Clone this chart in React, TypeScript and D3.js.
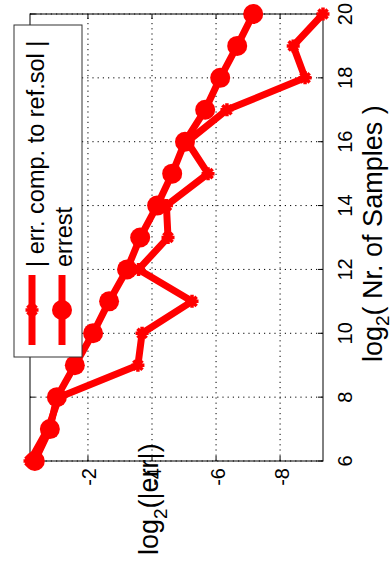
import React from 'react';
import * as d3 from 'd3';

// log2 of number of samples
const samplesLog2 = [6, 7, 8, 9, 10, 11, 12, 13, 14, 15, 16, 17, 18, 19, 20];
// | err. comp. to ref.sol |
const errRef = [-0.19, -0.75, -1.1, -3.56, -3.69, -5.25, -3.58, -4.5, -4.45, -5.75, -5.1, -6.34, -8.78, -8.41, -9.34];
// errest
const errEst = [-0.34, -0.81, -1.03, -1.59, -2.16, -2.66, -3.22, -3.63, -4.16, -4.63, -5.03, -5.66, -6.13, -6.66, -7.16];

const xTicks = [6, 8, 10, 12, 14, 16, 18, 20];
const yTicks = [-8, -6, -4, -2];
const legendLabels = ['| err. comp. to ref.sol |', 'errest'];

const FONT = '"Liberation Sans", Arial, Helvetica, sans-serif';
const RED = '#ff0000';

export default function App() {
  // inner (unrotated) frame: width 572, height 392
  const left = 111, right = 558, top = 30, bottom = 323;
  const x = d3.scaleLinear().domain([6, 20]).range([left, right]);
  const all = errRef.concat(errEst);
  const y = d3.scaleLinear().domain([d3.min(all) as number, d3.max(all) as number]).range([bottom, top]);

  const line = d3.line<number>().x((_, i) => x(samplesLog2[i])).y(d => y(d));

  const s = 6.5;
  const a = s * 0.707;
  const star = `M${-s},0L${s},0M0,${-s}L0,${s}M${-a},${-a}L${a},${a}M${-a},${a}L${a},${-a}`;
  const tickLen = 5;

  return (
    <svg width={392} height={572} style={{ position: 'absolute', left: 0, top: 0, background: '#fff' }}>
      <rect x={0} y={0} width={392} height={572} fill="#fff" />
      <g transform="translate(0,572) rotate(-90)" fontFamily={FONT}>
        {/* grid */}
        {xTicks.map(t => (
          <line key={'gx' + t} x1={x(t)} x2={x(t)} y1={top} y2={bottom} stroke="#000" strokeWidth={1} strokeDasharray="1.2,4" />
        ))}
        {yTicks.map(t => (
          <line key={'gy' + t} x1={left} x2={right} y1={y(t)} y2={y(t)} stroke="#000" strokeWidth={1} strokeDasharray="1.2,4" />
        ))}
        {/* ticks */}
        {xTicks.map(t => (
          <g key={'tx' + t}>
            <line x1={x(t)} x2={x(t)} y1={bottom} y2={bottom - tickLen} stroke="#000" />
            <line x1={x(t)} x2={x(t)} y1={top} y2={top + tickLen} stroke="#000" />
          </g>
        ))}
        {yTicks.map(t => (
          <g key={'ty' + t}>
            <line x1={left} x2={left + tickLen} y1={y(t)} y2={y(t)} stroke="#000" />
            <line x1={right} x2={right - tickLen} y1={y(t)} y2={y(t)} stroke="#000" />
          </g>
        ))}
        {/* frame */}
        <rect x={left} y={top} width={right - left} height={bottom - top} fill="none" stroke="#000" strokeWidth={1} />
        {/* tick labels */}
        {xTicks.map(t => (
          <text key={'lx' + t} x={x(t)} y={bottom + 29} fontSize={20} textAnchor="middle" fill="#000">{t}</text>
        ))}
        {yTicks.map(t => (
          <text key={'ly' + t} x={left - 7} y={y(t) + 8.5} fontSize={20} textAnchor="end" fill="#000">{t}</text>
        ))}
        {/* data */}
        <path d={line(errRef) || ''} fill="none" stroke={RED} strokeWidth={7} strokeLinejoin="round" strokeLinecap="round" />
        {errRef.map((v, i) => (
          <path key={'m1' + i} d={star} transform={`translate(${x(samplesLog2[i])},${y(v)})`} stroke={RED} strokeWidth={3.5} fill="none" />
        ))}
        <path d={line(errEst) || ''} fill="none" stroke={RED} strokeWidth={7} strokeLinejoin="round" strokeLinecap="round" />
        {errEst.map((v, i) => (
          <circle key={'m2' + i} cx={x(samplesLog2[i])} cy={y(v)} r={10} fill={RED} />
        ))}
        {/* axis labels */}
        <text x={210} y={382} fontSize={27} fill="#000">
          log<tspan fontSize={19} dy={7}>2</tspan><tspan dy={-7}>( Nr. of Samples )</tspan>
        </text>
        <text x={17} y={158} fontSize={27} fill="#000">
          log<tspan fontSize={19} dy={9}>2</tspan><tspan dy={-9}>(|err|)</tspan>
        </text>
        {/* legend */}
        <rect x={215} y={14} width={332} height={68} fill="#fff" stroke="#333" strokeWidth={1} />
        <line x1={227} x2={297} y1={32} y2={32} stroke={RED} strokeWidth={7} />
        <path d={star} transform="translate(262,32)" stroke={RED} strokeWidth={3.5} fill="none" />
        <text x={305} y={43.5} fontSize={23.5} fill="#000">{legendLabels[0]}</text>
        <line x1={227} x2={297} y1={62} y2={62} stroke={RED} strokeWidth={7} />
        <circle cx={262} cy={62} r={10} fill={RED} />
        <text x={305} y={72} fontSize={23.5} fill="#000">{legendLabels[1]}</text>
      </g>
    </svg>
  );
}
